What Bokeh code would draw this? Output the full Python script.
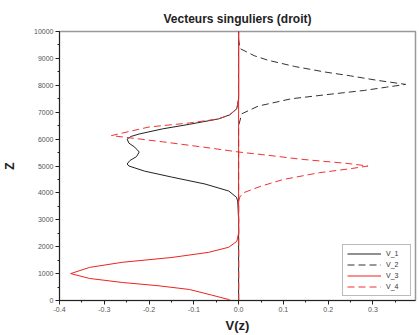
from bokeh.plotting import figure
from bokeh.models import FixedTicker, Range1d, Legend, LegendItem
from bokeh.embed import file_html
from bokeh.resources import INLINE

# ---- data ----
z1 = [0, 3000, 3700, 3840, 4070, 4330, 4590, 4810, 5000, 5075, 5200, 5350, 5520,
      5700, 5850, 6000, 6100, 6190, 6380, 6550, 6750, 6900, 7130, 7500, 10000]
v1 = [0, 0, -0.002, -0.005, -0.022, -0.075, -0.15, -0.21, -0.245, -0.249, -0.243,
      -0.228, -0.222, -0.232, -0.245, -0.249, -0.24, -0.222, -0.17, -0.11, -0.045,
      -0.02, -0.004, 0, 0]

z2 = [0, 6500, 6940, 7228, 7500, 7650, 7810, 7930, 8034, 8183, 8350, 8496, 8700,
      8930, 9100, 9366, 9700, 10000]
v2 = [0, 0, 0.007, 0.044, 0.118, 0.195, 0.281, 0.33, 0.373, 0.31, 0.25, 0.192,
      0.125, 0.066, 0.035, 0.003, 0, 0]

z3 = [0, 37, 200, 410, 550, 670, 820, 1000, 1230, 1420, 1600, 1790, 1980, 2200,
      2500, 10000]
v3 = [-0.018, -0.022, -0.06, -0.11, -0.18, -0.26, -0.333, -0.375, -0.333, -0.26,
      -0.149, -0.067, -0.022, -0.004, 0, 0]

z4 = [0, 3700, 3850, 4000, 4250, 4500, 4750, 4900, 5000, 5100, 5250, 5400, 5520,
      5700, 5900, 6130, 6300, 6450, 6600, 6750, 6900, 7130, 7500, 10000]
v4 = [0, 0, 0.003, 0.01, 0.05, 0.1, 0.18, 0.25, 0.289, 0.24, 0.14, 0.065, 0,
      -0.078, -0.17, -0.284, -0.24, -0.2, -0.11, -0.045, -0.02, -0.004, 0, 0]

series_names = ["V_1", "V_2", "V_3", "V_4"]
x_ticks = [-0.4, -0.3, -0.2, -0.1, 0.0, 0.1, 0.2, 0.3, 0.4]
x_tick_labels = ["-0.4", "-0.3", "-0.2", "-0.1", "0.0", "0.1", "0.2", "0.3", "0.4"]
y_ticks = [0, 1000, 2000, 3000, 4000, 5000, 6000, 7000, 8000, 9000, 10000]

FONT = "Liberation Sans"

p = figure(width=419, height=335, output_backend="svg", toolbar_location=None,
           x_range=Range1d(-0.4, 0.395), y_range=Range1d(0, 10000),
           min_border_left=57, min_border_right=4, min_border_top=31,
           min_border_bottom=34, background_fill_color="white",
           border_fill_color="white")

p.title.text = "Vecteurs singuliers (droit)"
p.title.align = "center"
p.title.text_font = FONT
p.title.text_font_size = "12px"
p.title.text_font_style = "bold"
p.title.text_color = "#222222"
p.title.standoff = 11

p.xgrid.visible = False
p.ygrid.visible = False
p.outline_line_color = "#999999"
p.outline_line_width = 1.5

minor_x = [round(-0.4 + 0.05 * i, 3) for i in range(17)]
minor_y = list(range(0, 10001, 500))
p.xaxis.ticker = FixedTicker(ticks=x_ticks, minor_ticks=minor_x)
p.yaxis.ticker = FixedTicker(ticks=y_ticks, minor_ticks=minor_y)
p.xaxis.major_label_overrides = {t: l for t, l in zip(x_ticks, x_tick_labels)}

for ax in (p.xaxis[0], p.yaxis[0]):
    ax.axis_line_color = "#222222"
    ax.major_tick_line_color = "#222222"
    ax.minor_tick_line_color = "#222222"
    ax.major_tick_out = 4
    ax.major_tick_in = 0
    ax.minor_tick_out = 2
    ax.minor_tick_in = 0
    ax.major_label_text_font = FONT
    ax.major_label_text_font_size = "7px"
    ax.major_label_text_color = "#555555"
    ax.axis_label_text_font = FONT
    ax.axis_label_text_font_style = "bold"
    ax.axis_label_text_color = "#222222"
    ax.major_label_standoff = 2

p.xaxis.axis_label = "V(z)"
p.xaxis.axis_label_text_font_size = "13px"
p.xaxis.axis_label_standoff = 3
p.yaxis.axis_label = "Z"
p.yaxis.axis_label_text_font_size = "12px"
p.yaxis.axis_label_standoff = 14

r1 = p.line(v1, z1, line_color="#222222", line_width=1)
r2 = p.line(v2, z2, line_color="#333333", line_width=1, line_dash="7 4")
r3 = p.line(v3, z3, line_color="#ee2222", line_width=1)
r4 = p.line(v4, z4, line_color="#ee3333", line_width=1, line_dash="7 4")

legend = Legend(items=[LegendItem(label=n, renderers=[r]) for n, r in
                       zip(series_names, [r1, r2, r3, r4])],
                location="bottom_right")
legend.label_text_font = FONT
legend.label_text_font_size = "7px"
legend.label_text_color = "#333333"
legend.glyph_width = 34
legend.glyph_height = 9
legend.label_height = 9
legend.spacing = 2
legend.padding = 4
legend.margin = 4
legend.border_line_color = "#777777"
legend.border_line_width = 1
legend.background_fill_alpha = 1
p.add_layout(legend, "center")

open("out.html", "w").write(file_html(p, INLINE))
